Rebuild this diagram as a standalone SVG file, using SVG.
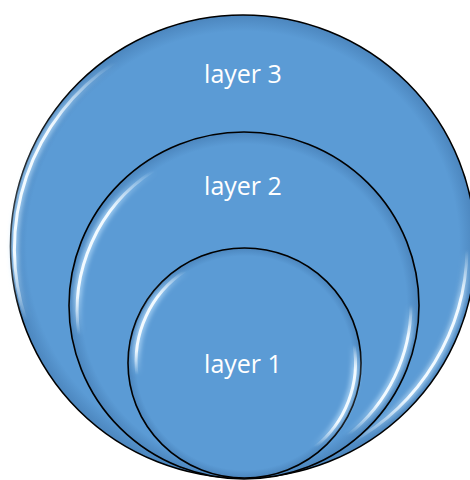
<svg xmlns="http://www.w3.org/2000/svg" width="470" height="480" viewBox="0 0 470 480">
  <style>
    .disc { fill: url(#bodyGrad); stroke: #000; stroke-width: 1.6; }
    .hl-wide { fill: none; stroke: url(#fadeWide); stroke-width: 8; stroke-linecap: round; filter: url(#soft); }
    .hl { fill: none; stroke: url(#fade); stroke-width: 3; stroke-linecap: round; filter: url(#soft2); }
    .label { font-family: "Open Sans", "Liberation Sans", sans-serif; font-size: 25px; fill: #ffffff; text-anchor: middle; }
  </style>
  <defs>
    <radialGradient id="bodyGrad" cx="0.5" cy="0.5" r="0.5">
      <stop offset="0" stop-color="#5B9BD5"/>
      <stop offset="0.93" stop-color="#5B9BD5"/>
      <stop offset="1" stop-color="#4C86BE"/>
    </radialGradient>
    <linearGradient id="fade" x1="0" y1="0" x2="0" y2="1">
      <stop offset="0" stop-color="#F2FAFF" stop-opacity="0"/>
      <stop offset="0.25" stop-color="#F2FAFF" stop-opacity="1"/>
      <stop offset="0.75" stop-color="#F2FAFF" stop-opacity="1"/>
      <stop offset="1" stop-color="#F2FAFF" stop-opacity="0"/>
    </linearGradient>
    <linearGradient id="fadeWide" x1="0" y1="0" x2="0" y2="1">
      <stop offset="0" stop-color="#BFE3FF" stop-opacity="0"/>
      <stop offset="0.25" stop-color="#BFE3FF" stop-opacity="0.65"/>
      <stop offset="0.75" stop-color="#BFE3FF" stop-opacity="0.65"/>
      <stop offset="1" stop-color="#BFE3FF" stop-opacity="0"/>
    </linearGradient>
    <filter id="soft" x="-30%" y="-30%" width="160%" height="160%">
      <feGaussianBlur stdDeviation="2"/>
    </filter>
    <filter id="soft2" x="-30%" y="-30%" width="160%" height="160%">
      <feGaussianBlur stdDeviation="0.6"/>
    </filter>
  </defs>

  <g id="layer3">
    <ellipse class="disc" cx="243" cy="246.5" rx="232.5" ry="231.5"/>
    <path class="hl-wide" d="M114,63 A225,224 0 0 0 26,320"/>
    <path class="hl" d="M114,63 A225,224 0 0 0 26,320"/>
    <path class="hl-wide" d="M467,250 A225,224 0 0 1 350,443"/>
    <path class="hl" d="M467,250 A225,224 0 0 1 350,443"/>
    <text class="label" x="243" y="83">layer 3</text>
  </g>

  <g id="layer2">
    <ellipse class="disc" cx="244" cy="305.5" rx="175" ry="173.5"/>
    <path class="hl-wide" d="M153,171 A168,166.5 0 0 0 79,335"/>
    <path class="hl" d="M153,171 A168,166.5 0 0 0 79,335"/>
    <path class="hl-wide" d="M411,305 A168,166.5 0 0 1 348,435"/>
    <path class="hl" d="M411,305 A168,166.5 0 0 1 348,435"/>
    <text class="label" x="243" y="195">layer 2</text>
  </g>

  <g id="layer1">
    <ellipse class="disc" cx="244.5" cy="363" rx="116.5" ry="115"/>
    <path class="hl-wide" d="M185,271 A110,108.5 0 0 0 137,375"/>
    <path class="hl" d="M185,271 A110,108.5 0 0 0 137,375"/>
    <path class="hl-wide" d="M354,345 A110,108.5 0 0 1 315,447"/>
    <path class="hl" d="M354,345 A110,108.5 0 0 1 315,447"/>
    <text class="label" x="243" y="373">layer 1</text>
  </g>

  <g id="connectors"></g>
</svg>
